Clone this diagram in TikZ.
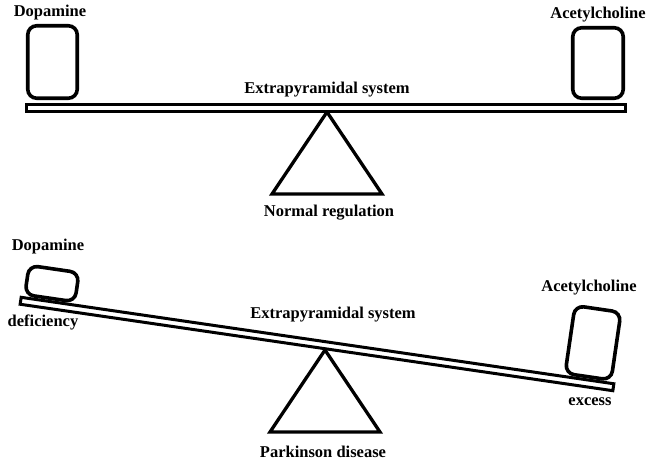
\documentclass[tikz,border=0pt]{standalone}
\usepackage{fontspec}
\setmainfont{Liberation Serif}
\usetikzlibrary{positioning}

\begin{document}
\begin{tikzpicture}[x=1pt, y=-1pt,
    beam/.style={draw, fill=white, line width=3pt, inner sep=0pt, minimum width=599pt, minimum height=7pt},
    weight/.style={draw, line width=3.6pt, rounded corners=9pt, inner sep=0pt},
    txt/.style={font=\fontsize{16.5}{18}\selectfont\bfseries, inner sep=0pt}]
    \useasboundingbox (0,0) rectangle (648,461);

    % Normal regulation: fulcrum and beam
    \draw[line width=3.3pt] (327,112) -- (272,194) -- (382,194) -- cycle;
    \node[beam] (beamA) at (326,108) {};

    % Weights
    \node[weight, minimum width=49.5pt, minimum height=72.5pt] (dopA) at (52.5,62) {};
    \node[weight, minimum width=50.5pt, minimum height=70.5pt] (achA) at (598,63) {};

    \node[txt] (dopAtxt) at (50,13) {Dopamine};
    \node[txt] (achAtxt) at (598,15) {Acetylcholine};
    \node[txt] (sysA) at (327,90) {Extrapyramidal system};
    \node[txt] (normal) at (329,213) {Normal regulation};

    % Parkinson disease: fulcrum
    \draw[line width=3.3pt] (325,350) -- (270,432) -- (380,432) -- cycle;

    % Tilted beam with weights
    \begin{scope}[shift={(317,344)}, rotate=-8.3, transform shape]
        \node[beam] (beamB) at (0,0) {};
        \node[weight, minimum width=50.5pt, minimum height=29.5pt] (dopB) at (-271,-21.5) {};
        \node[weight, minimum width=46.5pt, minimum height=68.5pt] (achB) at (273,-41) {};
    \end{scope}

    \node[txt] (dopBtxt) at (48,247) {Dopamine};
    \node[txt] (deficiency) at (43,322) {deficiency};
    \node[txt] (sysB) at (333,315) {Extrapyramidal system};
    \node[txt] (achBtxt) at (589,288) {Acetylcholine};
    \node[txt] (excess) at (590,402) {excess};
    \node[txt] (parkinson) at (323,452) {Parkinson disease};
\end{tikzpicture}
\end{document}
